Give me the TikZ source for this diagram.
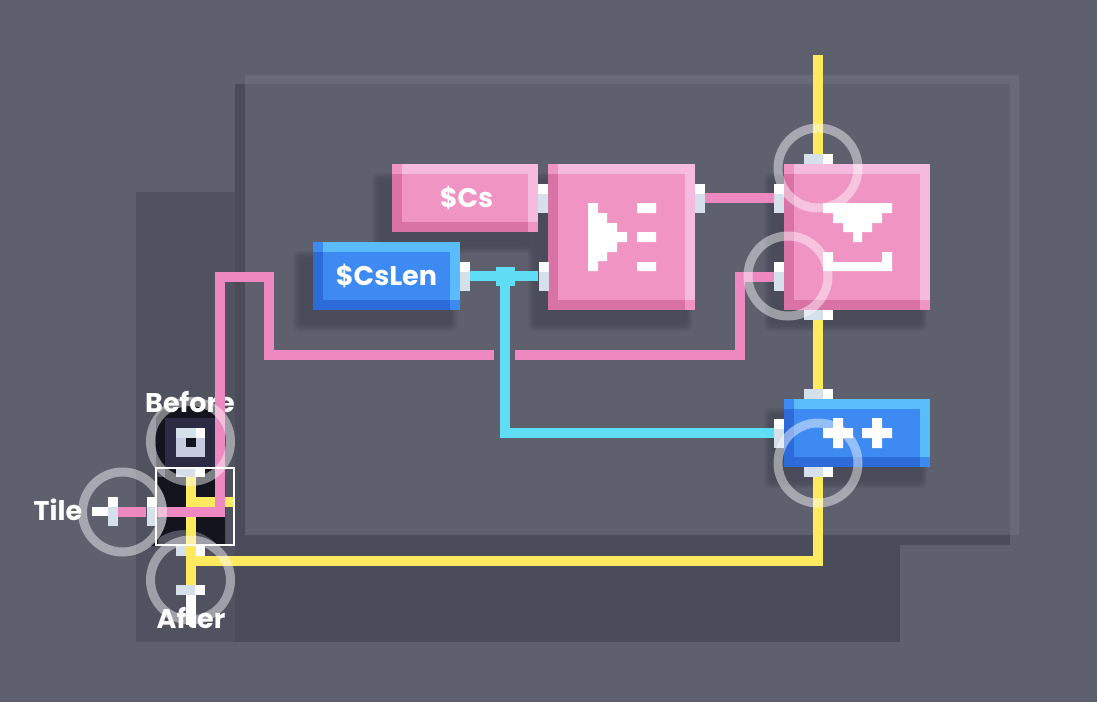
\documentclass[tikz,border=0pt]{standalone}
\usepackage{fontspec}
\setmainfont{Poppins}
\definecolor{bgcol}{HTML}{5F606E}
\definecolor{shadecol}{HTML}{4B4C59}
\definecolor{leftcol}{HTML}{51525F}
\definecolor{edgecol}{HTML}{696A78}
\definecolor{pinkmain}{HTML}{EF94C3}
\definecolor{pinklight}{HTML}{F4BBDF}
\definecolor{pinkdark}{HTML}{D973A6}
\definecolor{bluemain}{HTML}{3D8BF2}
\definecolor{bluelight}{HTML}{5BBCFB}
\definecolor{bluedark}{HTML}{2D6BD9}
\definecolor{wirepink}{HTML}{EE88C0}
\definecolor{wireyellow}{HTML}{FFE95F}
\definecolor{wirecyan}{HTML}{5FDDF5}
\definecolor{pincol}{HTML}{D6E0EA}
\definecolor{spritedark}{HTML}{14141F}
\definecolor{spritemid}{HTML}{2B2C44}
\definecolor{spritelight}{HTML}{C8CADF}
\tikzset{
  wire/.style={line width=10pt},
  pinkwire/.style={wire,draw=wirepink},
  yellowwire/.style={wire,draw=wireyellow},
  cyanwire/.style={wire,draw=wirecyan},
  ring/.style={circle,draw=white,draw opacity=0.45,line width=9pt,minimum size=80pt,inner sep=0pt},
  label/.style={text=white,font=\fontsize{27}{27}\selectfont\bfseries,inner sep=0pt},
  pinh/.style={rectangle,fill=pincol,inner sep=0pt,minimum width=10pt,minimum height=29pt,
    path picture={\fill[white] (path picture bounding box.north west) rectangle ([yshift=-10pt]path picture bounding box.north east);}},
  pinv/.style={rectangle,fill=pincol,inner sep=0pt,minimum width=29pt,minimum height=10pt,
    path picture={\fill[white] (path picture bounding box.north east) rectangle ([xshift=-10pt]path picture bounding box.south east);}},
}
% left, top, width, height
\newcommand{\blockshade}[4]{
  \begin{scope}[shift={(#1,#2)}]
    \fill[shadecol,opacity=0.25,rounded corners=6pt] (-20,9) rectangle (#3-3,#4+21);
    \fill[shadecol,opacity=0.4,rounded corners=5pt] (-18,11) rectangle (#3-5,#4+19);
    \fill[shadecol,opacity=0.6,rounded corners=4pt] (-16,13) rectangle (#3-7,#4+17);
    \fill[shadecol,rounded corners=3pt] (-13,15) rectangle (#3-9,#4+14);
  \end{scope}
}
% name, left, top, width, height, colour, text
\newcommand{\blockbox}[7]{
  \begin{scope}[shift={(#2,#3)}]
    \fill[#6main] (0,0) rectangle (#4,#5);
    \fill[#6light] (10,0) rectangle (#4,10);
    \fill[#6light] (#4-10,0) rectangle (#4,#5-10);
    \fill[#6dark] (0,10) rectangle (10,#5);
    \fill[#6dark] (0,#5-10) rectangle (#4-10,#5);
    \node[label] (#1) at ({#4/2},{#5/2}) [minimum width=#4,minimum height=#5] {#7};
  \end{scope}
}
\begin{document}
\begin{tikzpicture}[x=1pt,y=-1pt]
  \useasboundingbox (0,0) rectangle (1097,702);
  \fill[bgcol] (0,0) rectangle (1097,702);
  % room behind the panel
  \fill[leftcol] (136,192) rectangle (235,642);
  \fill[shadecol] (235,535) rectangle (900,642);
  \fill[shadecol] (235,84) rectangle (245,545);
  \fill[shadecol] (235,535) rectangle (1010,545);
  \fill[edgecol] (245,75) rectangle (1019,84);
  \fill[edgecol] (1010,75) rectangle (1019,535);
  % tile sprite
  \begin{scope}
    \clip (190.5,441.5) circle [radius=42];
    \fill[spritedark] (156,400) rectangle (225,467);
  \end{scope}
  \fill[spritemid] (165,418) rectangle (216,467);
  \fill[spritelight] (176,428) rectangle (205,457);
  \fill[pincol] (176,428) rectangle (205,438);
  \fill[white] (196,428) rectangle (205,438);
  \fill[spritedark] (186,438) rectangle (196,447);
  \fill[spritedark] (158,477) -- (165,477) -- (165,467) -- (216,467) -- (216,477) -- (225,477) -- (225,546) -- (218,546)
    arc [start angle=-39.5,end angle=-140.5,radius=44] -- (158,546) -- (158,539)
    arc [start angle=37.4,end angle=-37.4,radius=44] -- cycle;
  % blocks
  \blockshade{392}{164}{146}{68}
  \blockshade{313}{242}{147}{68}
  \blockshade{548}{164}{147}{146}
  \blockshade{784}{164}{146}{146}
  \blockshade{784}{399}{146}{68}
  \blockbox{cs}{392}{164}{146}{68}{pink}{\hspace{3pt}\$Cs}
  \blockbox{cslen}{313}{242}{147}{68}{blue}{\$CsLen}
  \blockbox{split}{548}{164}{147}{146}{pink}{}
  \blockbox{pick}{784}{164}{146}{146}{pink}{}
  \blockbox{incr}{784}{399}{146}{68}{blue}{}
  % icons
  \fill[white] (588,203) rectangle (598,271) (598,213) rectangle (607,261) (607,223) rectangle (617,252) (617,232) rectangle (627,242);
  \fill[white] (637,203) rectangle (656,213) (637,232) rectangle (656,242) (637,262) rectangle (656,271);
  \fill[white] (823,203) rectangle (892,213) (833,213) rectangle (882,223) (843,223) rectangle (872,232) (853,232) rectangle (862,242);
  \fill[white] (823,252) rectangle (833,271) (882,252) rectangle (892,271) (823,262) rectangle (892,271);
  \fill[white] (823,428) rectangle (853,438) (833,418) rectangle (843,448) (862,428) rectangle (892,438) (872,418) rectangle (882,448);
  % labels
  \node[label] (before) at (190,402) {Before};
  \node[label] (tile) at (58,510) {Tile};
  % pins
  \node[pinh] (csout) at (543,198) {};
  \node[pinh] (lenout) at (465,276) {};
  \node[pinh] (splitin) at (543.5,276) {};
  \node[pinh] (splitout) at (700,198) {};
  \node[pinh] (pickinA) at (779,198) {};
  \node[pinh] (pickinB) at (779,276.5) {};
  \node[pinv] (picktop) at (818.5,159) {};
  \node[pinv] (pickbot) at (818.5,315) {};
  \node[pinv] (incrtop) at (818.5,394) {};
  \node[pinh] (incrin) at (779,433) {};
  \node[pinv] (incrbot) at (818.5,472) {};
  \node[pinv] (tiletop) at (190.5,472) {};
  \node[pinv] (tilebot) at (190.5,551) {};
  \node[pinv] (afterpin) at (190.5,590) {};
  \node[pinh] (tilein) at (151.5,511.5) {};
  \node[pinh] (tilepin) at (112.5,511.5) {};
  \node[fill=wirecyan,inner sep=0pt,minimum size=19pt] (join) at (505,276.5) {};
  % free ends
  \coordinate (feedtop) at (818,55);
  \coordinate (gapL) at (494,354.5);
  \coordinate (gapR) at (515,354.5);
  \coordinate (yellowfork) at (190.5,501.5);
  \coordinate (yellowend) at (235,501.5);
  \coordinate (yellowjoin) at (190.5,560.5);
  % wires
  \fill[white] (92,507) rectangle (108,516);
  \fill[white] (186,595) rectangle (196,625);
  \draw[yellowwire] (feedtop) -- (picktop.north -| feedtop);
  \draw[yellowwire] (pickbot.south -| feedtop) -- (incrtop.north -| feedtop);
  \draw[yellowwire] (incrbot.south -| feedtop) |- (yellowjoin);
  \draw[yellowwire] (tiletop.south -| yellowjoin) -- (afterpin.north -| yellowjoin);
  \draw[yellowwire] (yellowfork) -- (yellowend);
  \draw[pinkwire] (splitout.east) -- (pickinA.west);
  \draw[cyanwire] (lenout.east) -- (splitin.west);
  \draw[cyanwire] (join.south) |- (incrin.west);
  \draw[pinkwire] (pickinB.west) -- (740,276.5) -- (740,354.5) -- (gapR);
  \draw[pinkwire] (gapL) -- (269,354.5) -- (269,276.5) -- (220,276.5) -- (220,511.5) -- (tilein.east);
  \draw[pinkwire] (tilein.west) -- (tilepin.east);
  \node[draw=white,line width=2pt,inner sep=0pt,minimum width=78pt,minimum height=77pt] (tileframe) at (195,506.5) {};
  \node[label] (after) at (191,618) {After};
  % rings
  \node[ring] (ringbefore) at (190.5,441.5) {};
  \node[ring] (ringtile) at (122.5,512) {};
  \node[ring] (ringafter) at (190.5,580) {};
  \node[ring] (ringtop) at (818,168) {};
  \node[ring] (ringmid) at (788,276) {};
  \node[ring] (ringincr) at (818,463) {};
\end{tikzpicture}
\end{document}
